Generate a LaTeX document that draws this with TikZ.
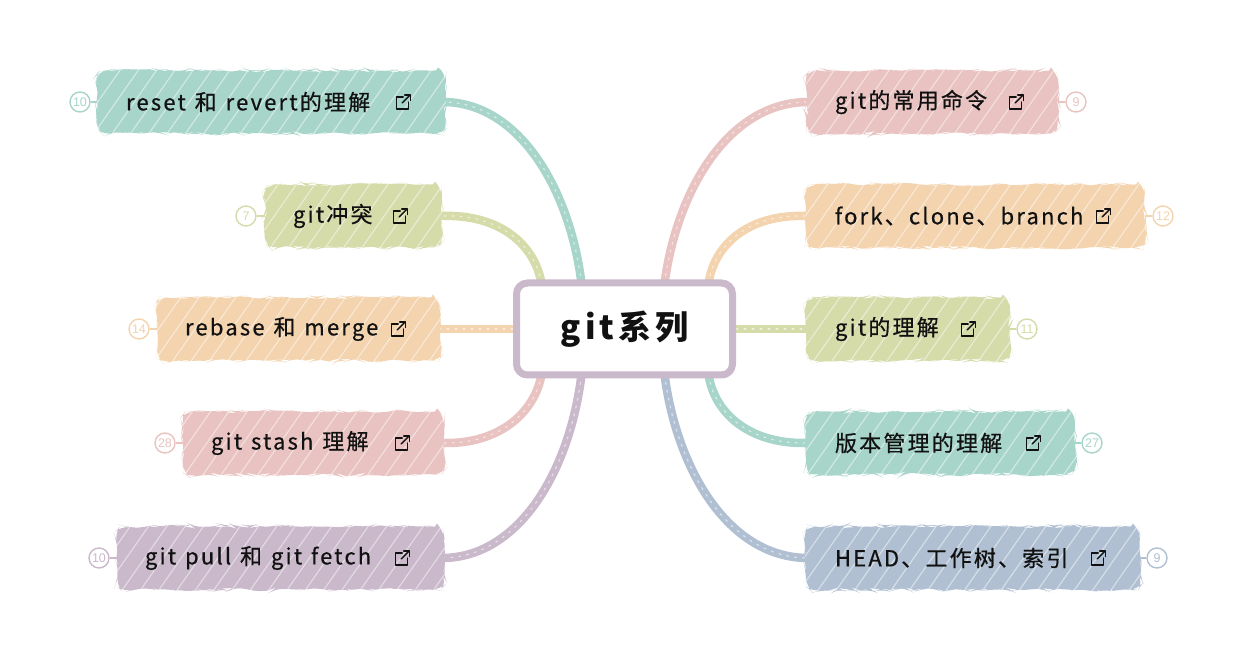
\documentclass[tikz,border=0pt]{standalone}
\usepackage{fontspec}
\setmainfont{Noto Sans CJK SC}
\newfontfamily\labfont[LetterSpace=10,FakeBold=0.6,WordSpace=1.25]{Noto Sans CJK SC}
\newfontfamily\cenfont[LetterSpace=12]{Noto Sans CJK SC}
\newfontfamily\numfont{Liberation Sans}
\usetikzlibrary{decorations.pathmorphing,patterns.meta,backgrounds,calc}
\definecolor{cteal}{HTML}{A8D5C9}
\definecolor{colive}{HTML}{D6DBAA}
\definecolor{corange}{HTML}{F3D4AF}
\definecolor{cpink}{HTML}{E8C3C1}
\definecolor{cpurple}{HTML}{C9B9CA}
\definecolor{cblue}{HTML}{B0C0D2}
\definecolor{ctext}{HTML}{111111}
\tikzset{
  branchbox/.style={fill=#1, rounded corners=9pt, minimum height=63pt, inner sep=0pt,
    decorate, decoration={random steps, segment length=6pt, amplitude=1.6pt},
    postaction={pattern={Lines[angle=55,distance=15pt,line width=1.1pt]}, pattern color=white, opacity=0.5}},
  lab/.style={anchor=west, inner sep=0pt, text=ctext, font=\labfont\fontsize{22}{26}\selectfont},
  badge/.style={circle, draw=#1, line width=1.4pt, fill=white, text=#1, minimum size=20pt, inner sep=0pt,
    font=\numfont\fontsize{12.5}{13}\selectfont},
  badgeline/.style={draw=#1, line width=1.4pt},
  conn/.style={draw=#1, line width=8.5pt, line cap=round,
    postaction={draw=white, line width=1.2pt, dash pattern=on 2pt off 6pt, opacity=0.55}},
  centerbox/.style={draw=cpurple, fill=white, line width=7pt, rounded corners=11pt,
    minimum width=216pt, minimum height=92pt, text=ctext,
    font=\cenfont\bfseries\fontsize{33}{38}\selectfont},
  extlink/.pic={
    \draw[ctext, line width=1.4pt, line cap=round, line join=round]
      (0,-5) -- (-7,-5) -- (-7,7) -- (5,7) -- (5,0);
    \draw[ctext, line width=1.4pt, line cap=round, line join=round]
      (-1,1) -- (7,-7);
    \draw[ctext, line width=1.4pt, line cap=round, line join=round]
      (1.5,-7) -- (7,-7) -- (7,-1.5);
  }
}
\begin{document}
\begin{tikzpicture}[x=1pt,y=-1pt]
\useasboundingbox (0,0) rectangle (1243,660);

% central topic
\node[centerbox] (c) at (624.5,329) {git系列};

% left branches
\node[branchbox=cteal,   minimum width=348pt] (l1) at (271,102) {};
\node[branchbox=colive,  minimum width=177pt] (l2) at (353.5,216) {};
\node[branchbox=corange, minimum width=283pt] (l3) at (298.5,329) {};
\node[branchbox=cpink,   minimum width=261pt] (l4) at (313.5,443) {};
\node[branchbox=cpurple, minimum width=327pt] (l5) at (280.5,558) {};

% right branches
\node[branchbox=cpink,   minimum width=252pt] (r1) at (932,102) {};
\node[branchbox=corange, minimum width=339pt] (r2) at (975.5,216) {};
\node[branchbox=colive,  minimum width=204pt] (r3) at (908,329) {};
\node[branchbox=cteal,   minimum width=269pt] (r4) at (940.5,443) {};
\node[branchbox=cblue,   minimum width=334pt] (r5) at (973,558) {};

% labels
\node[lab] (t1) at ([xshift=29pt]l1.west) {reset 和 revert的理解};
\node[lab] (t2) at ([xshift=28pt]l2.west) {git冲突};
\node[lab] (t3) at ([xshift=28pt]l3.west) {rebase 和 merge};
\node[lab] (t4) at ([xshift=28pt]l4.west) {git stash 理解};
\node[lab] (t5) at ([xshift=28pt]l5.west) {git pull 和 git fetch};
\node[lab] (t6) at ([xshift=29pt]r1.west) {git的常用命令};
\node[lab] (t7) at ([xshift=29pt]r2.west) {fork、clone、branch};
\node[lab] (t8) at ([xshift=29pt]r3.west) {git的理解};
\node[lab] (t9) at ([xshift=29pt]r4.west) {版本管理的理解};
\node[lab] (t10) at ([xshift=29pt]r5.west) {HEAD、工作树、索引};

% link icons
\foreach \n in {l1,l2,l3,l4,l5,r1,r2,r3,r4,r5}
  \pic at ([xshift=-42pt]\n.east) {extlink};

% badges
\node[badge=cteal]   (b1) at (80,102) {10};
\node[badge=colive]  (b2) at (246,216) {7};
\node[badge=corange] (b3) at (139,329) {14};
\node[badge=cpink]   (b4) at (165,443) {28};
\node[badge=cpurple] (b5) at (99,558) {10};
\node[badge=cpink]   (b6) at (1076,102) {9};
\node[badge=corange] (b7) at (1163,216) {12};
\node[badge=colive]  (b8) at (1027,329) {11};
\node[badge=cteal]   (b9) at (1092,443) {27};
\node[badge=cblue]   (b10) at (1157,558) {9};

\begin{scope}[on background layer]
\draw[badgeline=cteal]   (b1) -- (l1);
\draw[badgeline=colive]  (b2) -- (l2);
\draw[badgeline=corange] (b3) -- (l3);
\draw[badgeline=cpink]   (b4) -- (l4);
\draw[badgeline=cpurple] (b5) -- (l5);
\draw[badgeline=cpink]   (b6) -- (r1);
\draw[badgeline=corange] (b7) -- (r2);
\draw[badgeline=colive]  (b8) -- (r3);
\draw[badgeline=cteal]   (b9) -- (r4);
\draw[badgeline=cblue]   (b10) -- (r5);

\coordinate (s1) at ([xshift=-43pt,yshift=-4pt]c.north);
\coordinate (s2) at ([xshift=-83pt,yshift=-4pt]c.north);
\coordinate (s4) at ([xshift=-83pt,yshift=4pt]c.south);
\coordinate (s5) at ([xshift=-43pt,yshift=4pt]c.south);
\coordinate (s6) at ([xshift=40pt,yshift=-4pt]c.north);
\coordinate (s7) at ([xshift=84pt,yshift=-4pt]c.north);
\coordinate (s9) at ([xshift=84pt,yshift=4pt]c.south);
\coordinate (s10) at ([xshift=40pt,yshift=4pt]c.south);

\draw[conn=cteal]   (s1) .. controls (570,190) and (520,104) .. (l1.east);
\draw[conn=colive]  (s2) .. controls (535,245) and (500,214) .. (l2.east);
\draw[conn=corange] (c.west) -- (l3.east);
\draw[conn=cpink]   (s4) .. controls (535,412) and (500,444) .. (l4.east);
\draw[conn=cpurple] (s5) .. controls (570,470) and (520,556) .. (l5.east);
\draw[conn=cpink]   (s6) .. controls (677,190) and (728,104) .. (r1.west);
\draw[conn=corange] (s7) .. controls (714,245) and (748,214) .. (r2.west);
\draw[conn=colive]  (c.east) -- (r3.west);
\draw[conn=cteal]   (s9) .. controls (714,412) and (748,444) .. (r4.west);
\draw[conn=cblue]   (s10) .. controls (677,470) and (728,556) .. (r5.west);
\end{scope}
\end{tikzpicture}
\end{document}
